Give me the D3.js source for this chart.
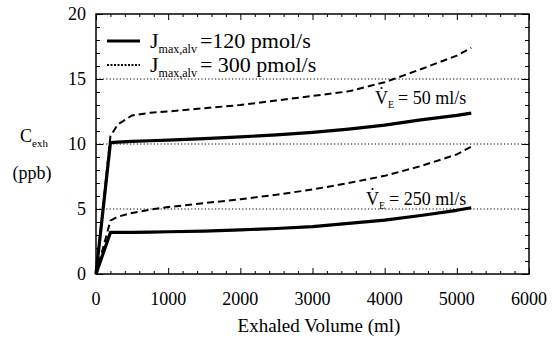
<!DOCTYPE html>
<html>
<head>
<meta charset="utf-8">
<script src="https://cdn.jsdelivr.net/npm/d3@7"></script>
<style>
  body { margin: 0; background: #fff; }
</style>
</head>
<body>
<div id="chart"></div>
<script>
// Exhaled volume (ml) at which the curves are sampled
const volume = [0, 200, 300, 500, 750, 1000, 1500, 2000, 2500, 3000, 3500, 4000, 4500, 5000, 5200];

// C_exh (ppb) for each flow / J_max,alv combination
const j120_v50  = [0, 10.1, 10.15, 10.2, 10.25, 10.3, 10.42, 10.55, 10.7, 10.9, 11.15, 11.45, 11.85, 12.2, 12.38];
const j300_v50  = [0, 10.6, 11.5, 12.2, 12.4, 12.5, 12.75, 13.0, 13.35, 13.7, 14.05, 14.75, 15.75, 16.8, 17.4];
const j120_v250 = [0, 3.2, 3.2, 3.2, 3.22, 3.25, 3.3, 3.4, 3.5, 3.65, 3.9, 4.15, 4.5, 4.9, 5.1];
const j300_v250 = [0, 4.1, 4.4, 4.7, 4.95, 5.15, 5.45, 5.75, 6.1, 6.5, 7.0, 7.55, 8.3, 9.2, 9.8];

const xTicks = [0, 1000, 2000, 3000, 4000, 5000, 6000];
const yTicks = [0, 5, 10, 15, 20];
const gridLevels = [5, 10, 15];

const width = 553, height = 344;
const margin = { top: 14, right: 24, bottom: 70, left: 96 };
const serif = "'Liberation Serif', 'DejaVu Serif', serif";

const svg = d3.select("#chart").append("svg")
  .attr("width", width)
  .attr("height", height)
  .attr("font-family", serif);

const x = d3.scaleLinear().domain([0, 6000]).range([margin.left, width - margin.right]);
const y = d3.scaleLinear().domain([0, 20]).range([height - margin.bottom, margin.top]);

// dotted reference lines
svg.selectAll(".grid").data(gridLevels).enter().append("line")
  .attr("x1", x(0)).attr("x2", x(6000))
  .attr("y1", d => y(d)).attr("y2", d => y(d))
  .attr("stroke", "#000").attr("stroke-width", 1)
  .attr("stroke-dasharray", "1.2,2.2");

// ticks on all four sides, pointing inward
const minorX = d3.range(0, 6001, 200);
const minorY = d3.range(0, 21, 1);

const axisBottom = d3.axisBottom(x).tickValues(minorX).tickSizeOuter(0).tickFormat("");
const axisTop = d3.axisTop(x).tickValues(minorX).tickSizeOuter(0).tickFormat("");
const axisLeft = d3.axisLeft(y).tickValues(minorY).tickSizeOuter(0).tickFormat("");
const axisRight = d3.axisRight(y).tickValues(minorY).tickSizeOuter(0).tickFormat("");

const gB = svg.append("g").attr("transform", `translate(0,${y(0)})`).call(axisBottom);
const gT = svg.append("g").attr("transform", `translate(0,${y(20)})`).call(axisTop);
const gL = svg.append("g").attr("transform", `translate(${x(0)},0)`).call(axisLeft);
const gR = svg.append("g").attr("transform", `translate(${x(6000)},0)`).call(axisRight);

// longer ticks at the labelled values
gB.selectAll(".tick line").attr("y2", d => d % 1000 === 0 ? -6 : -3);
gT.selectAll(".tick line").attr("y2", d => d % 1000 === 0 ? 6 : 3);
gL.selectAll(".tick line").attr("x2", d => d % 5 === 0 ? 7 : 4);
gR.selectAll(".tick line").attr("x2", d => d % 5 === 0 ? -7 : -4);
[gB, gT, gL, gR].forEach(g => {
  g.select(".domain").remove();
  g.selectAll(".tick line").attr("stroke", "#000").attr("stroke-width", 1);
});

// frame
svg.append("rect")
  .attr("x", x(0)).attr("y", y(20))
  .attr("width", x(6000) - x(0)).attr("height", y(0) - y(20))
  .attr("fill", "none").attr("stroke", "#000").attr("stroke-width", 1.5);

// tick labels
svg.selectAll(".xlab").data(xTicks).enter().append("text")
  .attr("x", d => x(d)).attr("y", 305)
  .attr("text-anchor", "middle").attr("font-size", 18)
  .text(d => d);

svg.selectAll(".ylab").data(yTicks).enter().append("text")
  .attr("x", 86).attr("y", d => y(d) + 6)
  .attr("text-anchor", "end").attr("font-size", 18)
  .text(d => d);

// axis titles
svg.append("text")
  .attr("x", 319).attr("y", 332)
  .attr("text-anchor", "middle").attr("font-size", 19)
  .text("Exhaled Volume (ml)");

const cl = svg.append("text").attr("x", 20).attr("y", 142).attr("font-size", 18);
cl.append("tspan").text("C");
cl.append("tspan").attr("font-size", 11).attr("dy", 5).text("exh");

svg.append("text")
  .attr("x", 32).attr("y", 179)
  .attr("text-anchor", "middle").attr("font-size", 18)
  .text("(ppb)");

// curves
const line = d3.line()
  .x((d, i) => x(volume[i]))
  .y(d => y(d));

const series = [
  { values: j300_v50, dash: "7,4", w: 2 },
  { values: j300_v250, dash: "7,4", w: 2 },
  { values: j120_v50, dash: null, w: 3.2 },
  { values: j120_v250, dash: null, w: 3.2 }
];

svg.selectAll(".curve").data(series).enter().append("path")
  .attr("d", d => line(d.values))
  .attr("fill", "none")
  .attr("stroke", "#000")
  .attr("stroke-width", d => d.w)
  .attr("stroke-dasharray", d => d.dash)
  .attr("stroke-linejoin", "round");

// legend
const legend = [
  { label: "=120 pmol/s", dash: null, w: 3.2, yPos: 41 },
  { label: "= 300 pmol/s", dash: "2,1.5", w: 2, yPos: 65 }
];
legend.forEach(l => {
  svg.append("line")
    .attr("x1", 107).attr("x2", 140)
    .attr("y1", l.yPos).attr("y2", l.yPos)
    .attr("stroke", "#000").attr("stroke-width", l.w)
    .attr("stroke-dasharray", l.dash);
  const t = svg.append("text").attr("x", 150).attr("y", l.yPos + 7).attr("font-size", 22);
  t.append("tspan").text("J");
  t.append("tspan").attr("font-size", 12).attr("dy", 5).text("max,alv");
  t.append("tspan").attr("dy", -5).attr("dx", 3).text(l.label);
});

// flow labels
const flows = [
  { label: "= 50 ml/s", xPos: 375, yPos: 104 },
  { label: "= 250 ml/s", xPos: 366, yPos: 205 }
];
flows.forEach(f => {
  const t = svg.append("text").attr("x", f.xPos).attr("y", f.yPos).attr("font-size", 18);
  t.append("tspan").text("V");
  t.append("tspan").attr("font-size", 10).attr("dy", 4).text("E");
  t.append("tspan").attr("dy", -4).attr("dx", 4).text(f.label);
  svg.append("circle")
    .attr("cx", f.xPos + 6.5).attr("cy", f.yPos - 16)
    .attr("r", 1.1).attr("fill", "#000");
});
</script>
</body>
</html>
